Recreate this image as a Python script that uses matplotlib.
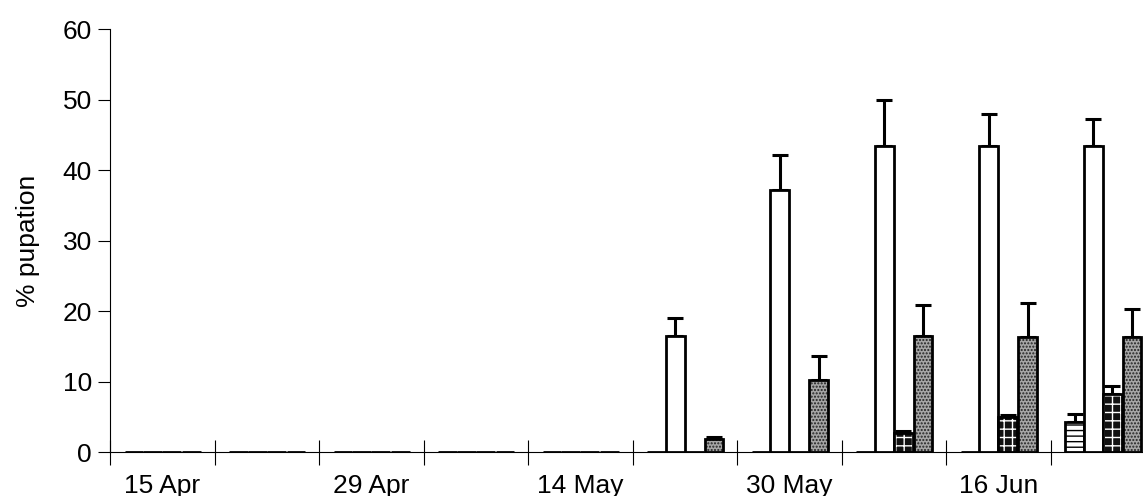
import numpy as np
import matplotlib.pyplot as plt

plt.rcParams['font.family'] = ['Liberation Sans', 'DejaVu Sans']

# Data (10 sampling dates, labels on every other one)
date_labels = ['15 Apr', '29 Apr', '14 May', '30 May', '16 Jun']
n_groups = 10

lines_vals = [0, 0, 0, 0, 0, 0, 0, 0, 0, 4.3]
lines_err = [0, 0, 0, 0, 0, 0, 0, 0, 0, 1.1]
white_vals = [0, 0, 0, 0, 0, 16.5, 37.2, 43.5, 43.4, 43.4]
white_err = [0, 0, 0, 0, 0, 2.5, 4.9, 6.5, 4.6, 3.9]
cross_vals = [0, 0, 0, 0, 0, 0, 0, 2.7, 4.9, 8.2]
cross_err = [0, 0, 0, 0, 0, 0, 0, 0.3, 0.3, 1.1]
gray_vals = [0, 0, 0, 0, 0, 1.9, 10.2, 16.4, 16.3, 16.3]
gray_err = [0, 0, 0, 0, 0, 0.2, 3.4, 4.5, 4.9, 4.0]

fig = plt.figure(figsize=(11.43, 4.96), dpi=100)
ax = fig.add_axes([110 / 1143, 44 / 496, 1045 / 1143, 422.7 / 496])

x = np.arange(n_groups)
w = 0.18
offsets = [0.14, 0.32, 0.50, 0.69]
lw = 2.0

def upper_err(ax, pos, vals, errs):
    vals = np.array(vals, dtype=float)
    errs = np.array(errs, dtype=float)
    mask = errs > 0
    ax.errorbar(pos[mask], vals[mask], yerr=[np.zeros(mask.sum()), errs[mask]],
                fmt='none', ecolor='black', elinewidth=2.2, capsize=5.5,
                capthick=2.2, zorder=1)

# horizontal-line hatched bars
pos = x + offsets[0] + w / 2
ax.bar(pos, lines_vals, w, facecolor='white', edgecolor='black',
       hatch='---', linewidth=lw, zorder=3)
upper_err(ax, pos, lines_vals, lines_err)

# open bars
pos = x + offsets[1] + w / 2
ax.bar(pos, white_vals, w, facecolor='white', edgecolor='black',
       linewidth=lw, zorder=3)
upper_err(ax, pos, white_vals, white_err)

# dark bars with white crosses
pos = x + offsets[2] + w / 2
ax.bar(pos, cross_vals, w, facecolor='#111111', edgecolor='white',
       hatch='++', linewidth=0, zorder=3)
ax.bar(pos, cross_vals, w, fill=False, edgecolor='black',
       linewidth=lw, zorder=4)
upper_err(ax, pos, cross_vals, cross_err)

# stippled grey bars
pos = x + offsets[3] + w / 2
ax.bar(pos, gray_vals, w, facecolor='#a6a6a6', edgecolor='#222222',
       hatch='.....', linewidth=0, zorder=3)
ax.bar(pos, gray_vals, w, fill=False, edgecolor='black',
       linewidth=lw, zorder=4)
upper_err(ax, pos, gray_vals, gray_err)

ax.set_xlim(0, n_groups)
ax.set_ylim(0, 60)
ax.set_yticks(np.arange(0, 61, 10))
ax.tick_params(axis='y', direction='out', length=9, width=0.8, labelsize=19, pad=4)

ax.set_xticks(np.arange(0, n_groups + 1))
ax.set_xticklabels([])
ax.tick_params(axis='x', which='major', direction='inout', length=18, width=0.8)
ax.set_xticks(np.arange(0, n_groups, 2) + 0.5, minor=True)
ax.set_xticklabels(date_labels, minor=True)
ax.tick_params(axis='x', which='minor', length=0, labelsize=19, pad=16)

ax.spines['top'].set_visible(False)
ax.spines['right'].set_visible(False)
ax.spines['left'].set_linewidth(0.8)
ax.spines['bottom'].set_linewidth(0.8)
ax.spines['left'].set_bounds(0, 60)

ax.set_ylabel('% pupation', fontsize=19, labelpad=16)

fig.savefig('out.png', dpi=100)
